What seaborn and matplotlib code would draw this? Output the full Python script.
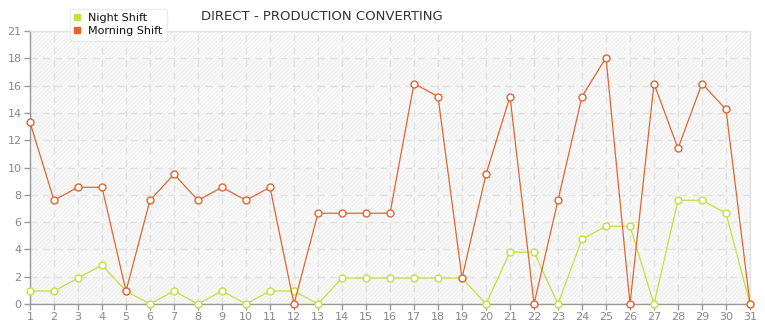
import matplotlib
matplotlib.use("Agg")
import matplotlib.pyplot as plt
import seaborn as sns
import pandas as pd
from matplotlib.patches import Rectangle
from matplotlib.lines import Line2D

days = list(range(1, 32))
night_shift = [0.95, 0.95, 1.9, 2.85, 0.95, 0, 0.95, 0, 0.95, 0, 0.95, 0.95, 0,
               1.9, 1.9, 1.9, 1.9, 1.9, 1.9, 0, 3.8, 3.8, 0, 4.75, 5.7, 5.7, 0,
               7.6, 7.6, 6.65, 0]
morning_shift = [13.3, 7.6, 8.55, 8.55, 0.95, 7.6, 9.5, 7.6, 8.55, 7.6, 8.55, 0,
                 6.65, 6.65, 6.65, 6.65, 16.15, 15.2, 1.9, 9.5, 15.2, 0, 7.6,
                 15.2, 18.05, 0, 16.15, 11.4, 16.15, 14.25, 0]
y_ticks = [0, 2, 4, 6, 8, 10, 12, 14, 16, 18, 20]
y_tick_labels = ["0", "2", "4", "6", "8", "10", "12", "14", "16", "18", "21"]
series_names = ["Night Shift", "Morning Shift"]
title = "DIRECT - PRODUCTION CONVERTING"

colors = {"Night Shift": "#c6e03c", "Morning Shift": "#e2662f"}

df = pd.concat([
    pd.DataFrame({"day": days, "value": night_shift, "series": "Night Shift"}),
    pd.DataFrame({"day": days, "value": morning_shift, "series": "Morning Shift"}),
])

sns.set_style("white")
plt.rcParams["font.family"] = ["Verdana", "DejaVu Sans"]

fig = plt.figure(figsize=(7.65, 3.2), dpi=100)
ax = fig.add_axes([30 / 765, 16 / 320, 720 / 765, 273 / 320])

ax.set_xlim(1, 31)
ax.set_ylim(0, 20)

# background bands with hatch
ax.set_facecolor("white")
for i, lo in enumerate(y_ticks[:-1]):
    hi = y_ticks[i + 1]
    fc = "#f8f8f8" if i % 2 == 0 else "#fcfcfc"
    ax.axhspan(lo, hi, facecolor=fc, edgecolor="none", zorder=0)
hatch = Rectangle((0, 0), 1, 1, transform=ax.transAxes, facecolor="none",
                  edgecolor="#f1f1f1", hatch="////////", linewidth=0, zorder=0.5)
ax.add_patch(hatch)

sns.lineplot(data=df, x="day", y="value", hue="series", hue_order=series_names,
             palette=colors, marker="o", markersize=5, markerfacecolor="white",
             markeredgewidth=1.0, linewidth=0.9, ax=ax, legend=False, zorder=3)
for line, name in zip(ax.lines, series_names):
    line.set_markeredgecolor(colors[name])
    line.set_clip_on(False)

ax.grid(True, color="#e2e2e2", linestyle=(0, (5, 4)), linewidth=1)
ax.set_axisbelow(True)
ax.set_xticks(days)
ax.set_xticklabels([str(d) for d in days])
ax.set_yticks(y_ticks)
ax.set_yticklabels(y_tick_labels)
ax.tick_params(axis="both", labelsize=8, colors="#999999", length=4, width=1,
               direction="out", pad=2, labelcolor="#888888")
ax.tick_params(axis="both", which="both", bottom=True, left=True)
ax.set_xlabel("")
ax.set_ylabel("")

for side in ["left", "bottom"]:
    ax.spines[side].set_color("#999999")
    ax.spines[side].set_linewidth(1)
for side in ["top", "right"]:
    ax.spines[side].set_color("#e2e2e2")
    ax.spines[side].set_linewidth(1)

fig.text(322 / 765, 1 - 17 / 320, title, ha="center", va="center",
         fontsize=9.5, color="#333333")

handles = [Line2D([0], [0], marker="s", linestyle="none", markersize=5,
                  markerfacecolor=colors[n], markeredgecolor=colors[n]) for n in series_names]
leg = fig.legend(handles, series_names, loc="upper left",
                 bbox_to_anchor=(64 / 765, 1 - 3 / 320), fontsize=8,
                 frameon=True, fancybox=True, handlelength=0.6, handletextpad=0.7,
                 borderpad=0.4, labelspacing=0.3)
leg.get_frame().set_edgecolor("#e8e8e8")
leg.get_frame().set_facecolor("white")
for t in leg.get_texts():
    t.set_color("#111111")

fig.savefig("out.png", dpi=100)
